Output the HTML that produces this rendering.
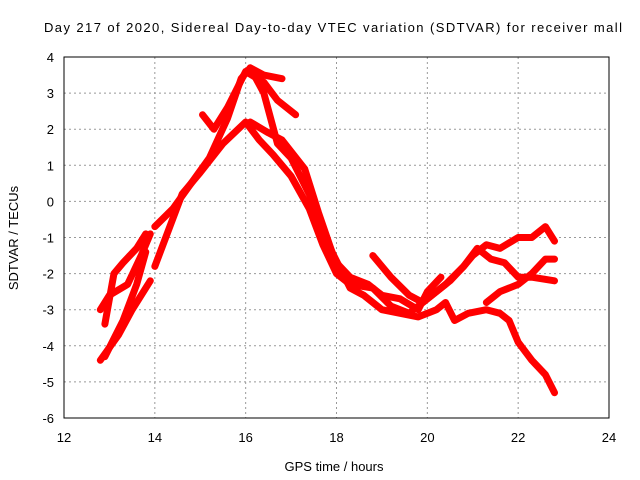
<!DOCTYPE html>
<html><head><meta charset="utf-8"><style>
body{margin:0;background:#fff;}
svg{display:block;font-family:"Liberation Sans",sans-serif;}
</style></head><body>
<svg id="chart" width="640" height="480">
<text x="333" y="32" font-size="13" text-anchor="middle" textLength="578">Day 217 of 2020, Sidereal Day-to-day VTEC variation (SDTVAR) for receiver mall</text>
<text x="334" y="471" font-size="13" text-anchor="middle">GPS time / hours</text>
<text transform="translate(18,238) rotate(-90)" font-size="13" text-anchor="middle">SDTVAR / TECUs</text>
<g id="grid"></g><g id="series"></g>
<rect x="64" y="57" width="545" height="361" fill="none" stroke="#000" stroke-width="1"/>
</svg>
<script>
const xTicks=[12,14,16,18,20,22,24];
const yTicks=[-6,-5,-4,-3,-2,-1,0,1,2,3,4];
const s1x=[12.8,13.2,13.5,13.9];
const s1y=[-4.4,-3.7,-3.0,-2.2];
const s2x=[12.8,13.0,13.4,13.7,13.9];
const s2y=[-3.0,-2.6,-2.3,-1.5,-0.9];
const s3x=[12.9,13.1,13.3,13.6,13.8];
const s3y=[-3.4,-2.0,-1.7,-1.3,-0.9];
const s4x=[12.9,13.3,13.6,13.8];
const s4y=[-4.3,-3.3,-2.3,-1.4];
const m1x=[14.0,14.3,14.6,15.0,15.5,16.0,16.3,16.6,17.0,17.4,17.7,18.0,18.3,18.8,19.2,19.6,20.0,20.4,20.8,21.0,21.3,21.6,22.0,22.3,22.6,22.8];
const m1y=[-1.8,-0.8,0.2,0.8,1.6,2.2,1.7,1.3,0.7,-0.2,-1.2,-2.0,-2.3,-2.4,-2.9,-3.1,-2.7,-2.3,-1.8,-1.5,-1.2,-1.3,-1.0,-1.0,-0.7,-1.1];
const m2x=[14.0,14.4,14.8,15.2,15.6,15.9,16.1,16.4,16.8];
const m2y=[-0.7,-0.2,0.5,1.2,2.3,3.4,3.7,3.5,3.4];
const m3x=[15.05,15.3,15.6,16.0,16.4,16.7,17.1];
const m3y=[2.4,2.0,2.6,3.6,3.3,2.8,2.4];
const d1x=[16.1,16.4,16.7,17.0,17.4,17.7,18.0,18.3,18.7,19.0,19.4,19.8,20.0,20.3];
const d1y=[3.7,3.0,1.6,1.2,0.2,-0.8,-1.7,-2.1,-2.3,-2.6,-2.7,-3.0,-2.5,-2.1];
const d2x=[16.1,16.5,16.8,17.3,17.6,17.9,18.3,18.6,19.0,19.4,19.8,20.2,20.4,20.6,20.9,21.3,21.6,21.8,22.0,22.3,22.6,22.8];
const d2y=[2.2,1.9,1.7,0.9,-0.3,-1.4,-2.4,-2.6,-3.0,-3.1,-3.2,-3.0,-2.8,-3.3,-3.1,-3.0,-3.1,-3.3,-3.9,-4.4,-4.8,-5.3];
const d3x=[18.8,19.2,19.6,19.9,20.2,20.5,20.8,21.1,21.4,21.7,22.0,22.3,22.8];
const d3y=[-1.5,-2.1,-2.6,-2.8,-2.5,-2.2,-1.8,-1.3,-1.6,-1.7,-2.1,-2.1,-2.2];
const d4x=[21.3,21.6,22.0,22.3,22.6,22.8];
const d4y=[-2.8,-2.5,-2.3,-2.0,-1.6,-1.6];
const seriesX=[s1x,s2x,s3x,s4x,m1x,m2x,m3x,d1x,d2x,d3x,d4x];
const seriesY=[s1y,s2y,s3y,s4y,m1y,m2y,m3y,d1y,d2y,d3y,d4y];
const NS="http://www.w3.org/2000/svg";
const X=h=>64+(h-12)*545/12;
const Y=v=>57+(4-v)*361/10;
const grid=document.getElementById('grid');
xTicks.forEach(t=>{
  const x=X(t);
  if(t>12&&t<24){const l=document.createElementNS(NS,'line');
  
  
  l.setAttribute('x1',x);l.setAttribute('x2',x);l.setAttribute('y1',57);l.setAttribute('y2',418);
  l.setAttribute('stroke','#999');l.setAttribute('stroke-dasharray','2,3');grid.appendChild(l);}
  const tx=document.createElementNS(NS,'text');
  
  
  tx.setAttribute('x',x);tx.setAttribute('y',442);tx.setAttribute('font-size','13');tx.setAttribute('text-anchor','middle');
  tx.textContent=t;grid.appendChild(tx);
});
yTicks.forEach(t=>{
  const y=Y(t);
  if(t>-6&&t<4){const l=document.createElementNS(NS,'line');
  
  
  l.setAttribute('x1',64);l.setAttribute('x2',609);l.setAttribute('y1',y);l.setAttribute('y2',y);
  l.setAttribute('stroke','#999');l.setAttribute('stroke-dasharray','2,3');grid.appendChild(l);}
  const tx=document.createElementNS(NS,'text');
  
  
  tx.setAttribute('x',54);tx.setAttribute('y',y+5);tx.setAttribute('font-size','13');tx.setAttribute('text-anchor','end');
  tx.textContent=t;grid.appendChild(tx);
});
const sg=document.getElementById('series');
seriesX.forEach((xs,i)=>{
  const ys=seriesY[i];
  const p=document.createElementNS(NS,'polyline');
  
  
  p.setAttribute('points',xs.map((h,j)=>X(h)+','+Y(ys[j])).join(' '));
  p.setAttribute('fill','none');p.setAttribute('stroke','#ff0000');p.setAttribute('stroke-width','7');
  p.setAttribute('stroke-linejoin','round');p.setAttribute('stroke-linecap','round');
  sg.appendChild(p);
});
</script>
</body></html>
